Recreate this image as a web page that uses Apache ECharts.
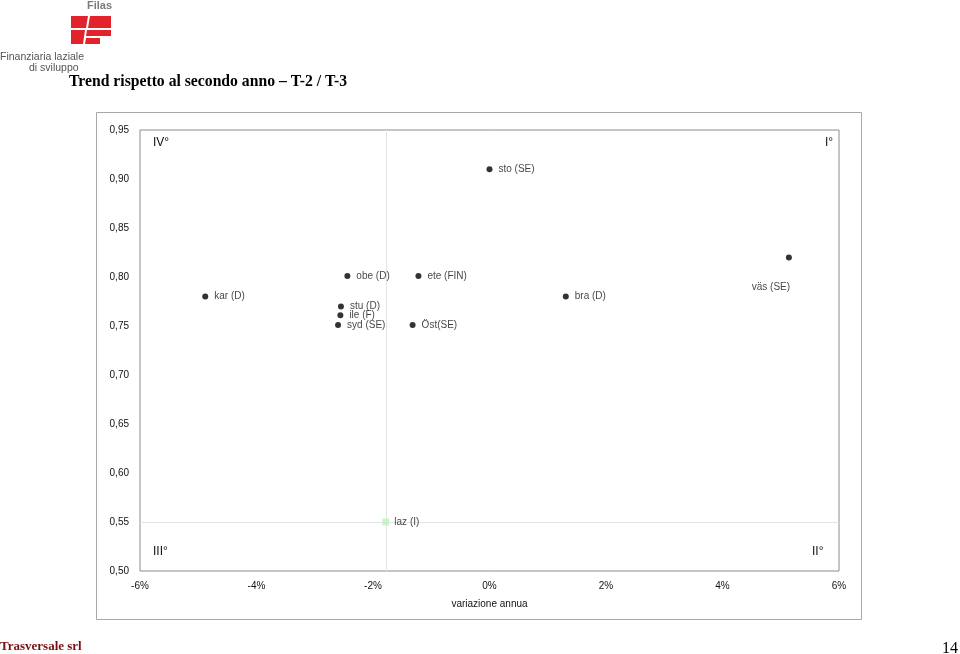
<!DOCTYPE html>
<html>
<head>
<meta charset="utf-8">
<script src="https://cdn.jsdelivr.net/npm/echarts@6/dist/echarts.min.js"></script>
<style>html,body{margin:0;padding:0;background:#fff}#c{width:960px;height:654px}</style>
</head>
<body>
<div id="c"></div>
<script>
// Data
var pointNames = ['sto (SE)', 'obe (D)', 'ete (FIN)', 'kar (D)', 'stu (D)', 'ile (F)', 'syd (SE)', 'Öst(SE)', 'bra (D)', 'väs (SE)'];
var xValues = [0.0, -2.44, -1.22, -4.88, -2.55, -2.56, -2.60, -1.32, 1.31, 5.14];
var yValues = [0.910, 0.801, 0.801, 0.780, 0.770, 0.761, 0.751, 0.751, 0.780, 0.820];
var refName = 'laz (I)';
var refX = -1.78;
var refY = 0.55;
var xTicks = [-6, -4, -2, 0, 2, 4, 6];
var yTicks = [0.50, 0.55, 0.60, 0.65, 0.70, 0.75, 0.80, 0.85, 0.90, 0.95];
var quadrantLabels = ['IV°', 'I°', 'III°', 'II°'];

var FONT = "'Liberation Sans', Arial, sans-serif";
var SERIF = "'Liberation Serif', 'Times New Roman', serif";

var pts = pointNames.map(function (n, i) {
  var d = { name: n, value: [xValues[i], yValues[i]] };
  if (n === 'väs (SE)') {
    d.label = { position: 'inside', offset: [-18, 30] };
  }
  return d;
});

var chart = echarts.init(document.getElementById('c'), null, { renderer: 'canvas' });
chart.setOption({
  animation: false,
  backgroundColor: '#fff',
  textStyle: { fontFamily: FONT },
  grid: { left: 140, right: 121, top: 130, bottom: 83, show: true, borderColor: '#8c8c8c', borderWidth: 1, backgroundColor: '#fff' },
  xAxis: {
    type: 'value', min: xTicks[0], max: xTicks[xTicks.length - 1], interval: 2,
    axisLine: { show: false }, axisTick: { show: false }, splitLine: { show: false },
    axisLabel: { color: '#111', fontSize: 10, fontFamily: FONT, margin: 10, formatter: function (v) { return v + '%'; } },
    name: 'variazione annua', nameLocation: 'middle', nameGap: 28,
    nameTextStyle: { color: '#111', fontSize: 10, fontFamily: FONT }
  },
  yAxis: {
    type: 'value', min: yTicks[0], max: yTicks[yTicks.length - 1], interval: 0.05,
    axisLine: { show: false }, axisTick: { show: false }, splitLine: { show: false },
    axisLabel: { color: '#111', fontSize: 10, fontFamily: FONT, margin: 11, formatter: function (v) { return v.toFixed(2).replace('.', ','); } }
  },
  series: [
    {
      type: 'scatter', symbol: 'rect', symbolSize: 7,
      itemStyle: { color: '#bdf2bd' },
      data: [{ name: refName, value: [refX, refY] }],
      label: { show: true, position: 'right', distance: 5, formatter: '{b}', color: '#111', fontSize: 10, fontFamily: FONT },
      markLine: {
        silent: true, symbol: 'none', label: { show: false },
        lineStyle: { color: '#e4e4e4', type: 'solid', width: 1 },
        data: [{ xAxis: refX }, { yAxis: refY }],
        z: 1
      },
      z: 3
    },
    {
      type: 'scatter', symbol: 'circle', symbolSize: 6,
      itemStyle: { color: '#000' },
      data: pts,
      label: { show: true, position: 'right', distance: 6, formatter: '{b}', color: '#111', fontSize: 10, fontFamily: FONT },
      z: 4
    }
  ],
  graphic: [
    { type: 'rect', shape: { x: 96.5, y: 112.5, width: 765, height: 507 }, style: { fill: 'none', stroke: '#a8a8a8', lineWidth: 1 }, z: -10 },
    { type: 'text', left: 153, top: 137, style: { text: quadrantLabels[0], font: '12px ' + FONT, fill: '#111' } },
    { type: 'text', left: 825, top: 137, style: { text: quadrantLabels[1], font: '12px ' + FONT, fill: '#111' } },
    { type: 'text', left: 153, top: 546, style: { text: quadrantLabels[2], font: '12px ' + FONT, fill: '#111' } },
    { type: 'text', left: 812, top: 546, style: { text: quadrantLabels[3], font: '12px ' + FONT, fill: '#111' } },
    { type: 'text', left: 69, top: 74, style: { text: 'Trend rispetto al secondo anno – T-2 / T-3', font: 'bold 15.7px ' + SERIF, fill: '#000' } },
    { type: 'text', left: 0, top: 640, style: { text: 'Trasversale srl', font: 'bold 13px ' + SERIF, fill: '#7a0f12' } },
    { type: 'text', left: 942, top: 641, style: { text: '14', font: '16px ' + SERIF, fill: '#000' } },
    // logo
    { type: 'text', left: 87, top: 0, style: { text: 'Filas', font: 'bold 11px ' + FONT, fill: '#7a7a7a' } },
    { type: 'polygon', shape: { points: [[71, 16], [88, 16], [86, 28], [71, 28]] }, style: { fill: '#e3232c' } },
    { type: 'polygon', shape: { points: [[90, 16], [111, 16], [111, 28], [88, 28]] }, style: { fill: '#e3232c' } },
    { type: 'polygon', shape: { points: [[71, 30], [85, 30], [83, 44], [71, 44]] }, style: { fill: '#e3232c' } },
    { type: 'polygon', shape: { points: [[87, 30], [111, 30], [111, 36], [86, 36]] }, style: { fill: '#e3232c' } },
    { type: 'polygon', shape: { points: [[86, 38], [100, 38], [100, 44], [85, 44]] }, style: { fill: '#e3232c' } },
    { type: 'text', left: 0, top: 52, style: { text: 'Finanziaria laziale', font: '10.5px ' + FONT, fill: '#555' } },
    { type: 'text', left: 29, top: 63, style: { text: 'di sviluppo', font: '10.5px ' + FONT, fill: '#555' } }
  ]
});
</script>
</body>
</html>
